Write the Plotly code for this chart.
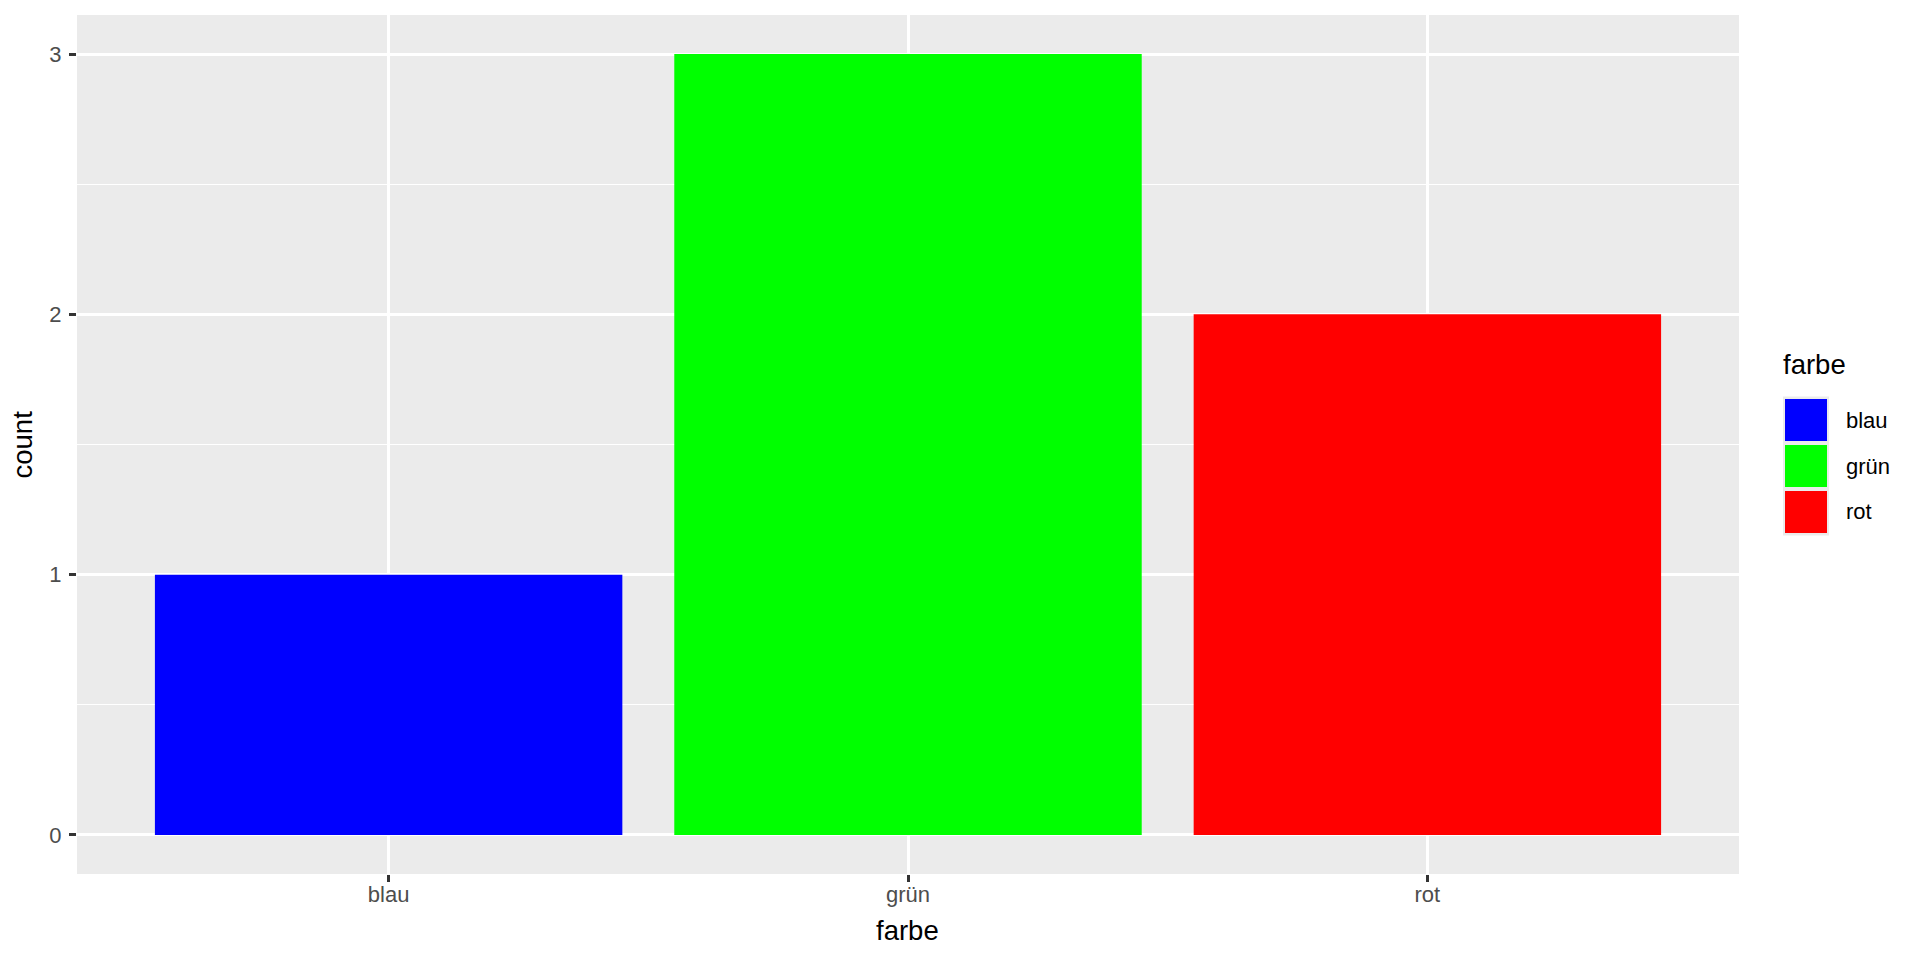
import plotly.graph_objects as go

# data
farbe = ["blau", "grün", "rot"]
count = [1, 3, 2]
farben = ["#0000FF", "#00FF00", "#FF0000"]
y_ticks = [0, 1, 2, 3]

# the page body has an 8px margin, so the figure is a bit smaller and shifted
OFF = 8
W, H = 1920 - 2 * OFF, 960 - 2 * OFF
L, T = 77 - OFF, 15 - OFF
R = W - (1739 - OFF)
B = H - (874 - OFF)
PW = W - L - R
PH = H - T - B


def px_x(x):
    return (x - OFF - L) / PW


def px_y(y):
    return (H - B - (y - OFF)) / PH


FONT = "Liberation Sans, Arial, sans-serif"

fig = go.Figure()
fig.add_trace(
    go.Bar(
        x=farbe,
        y=count,
        width=0.9,
        marker=dict(color=farben, line=dict(width=0)),
        showlegend=False,
        hoverinfo="x+y",
    )
)

fig.update_layout(
    width=W,
    height=H,
    margin=dict(l=L, r=R, t=T, b=B, autoexpand=False),
    paper_bgcolor="white",
    plot_bgcolor="#EBEBEB",
    font=dict(family=FONT, size=22, color="#4D4D4D"),
    showlegend=False,
)

fig.update_xaxes(
    type="category",
    range=[-0.6, len(farbe) - 0.4],
    showgrid=True,
    gridcolor="white",
    gridwidth=2.5,
    ticks="outside",
    ticklen=7,
    tickwidth=2.5,
    tickcolor="#333333",
    tickfont=dict(size=22, color="#4D4D4D"),
    ticklabelstandoff=-6,
    zeroline=False,
    showline=False,
)

fig.update_yaxes(
    range=[-0.15, 3.15],
    tickvals=y_ticks,
    showgrid=True,
    gridcolor="white",
    gridwidth=2.5,
    minor=dict(dtick=0.5, tick0=0.5, showgrid=True, gridcolor="white", gridwidth=1.3, ticks=""),
    ticks="outside",
    ticklen=7,
    tickwidth=2.5,
    tickcolor="#333333",
    tickfont=dict(size=22, color="#4D4D4D"),
    ticklabelstandoff=3,
    zeroline=False,
    showline=False,
)

annotations = [
    dict(text="count", x=px_x(22), y=px_y(444.5), xref="paper", yref="paper",
         textangle=-90, showarrow=False, xanchor="center", yanchor="middle",
         font=dict(size=27.5, color="black", family=FONT)),
    dict(text="farbe", x=px_x(907.5), y=px_y(930), xref="paper", yref="paper",
         showarrow=False, xanchor="center", yanchor="middle",
         font=dict(size=27.5, color="black", family=FONT)),
    dict(text="farbe", x=px_x(1781), y=px_y(364), xref="paper", yref="paper",
         showarrow=False, xanchor="left", yanchor="middle",
         font=dict(size=27.5, color="black", family=FONT)),
]

# legend keys drawn by hand (ggplot-style large keys)
shapes = [
    dict(type="rect", xref="paper", yref="paper",
         x0=px_x(1783), x1=px_x(1829), y0=px_y(396.5), y1=px_y(535.5),
         fillcolor="#EBEBEB", line=dict(width=0), layer="above"),
]
for i, (name, col) in enumerate(zip(farbe, farben)):
    top = 399 + i * 46
    shapes.append(dict(type="rect", xref="paper", yref="paper",
                       x0=px_x(1785), x1=px_x(1827), y0=px_y(top), y1=px_y(top + 42),
                       fillcolor=col, line=dict(width=0), layer="above"))
    annotations.append(dict(text=name, x=px_x(1844), y=px_y(top + 21), xref="paper", yref="paper",
                            showarrow=False, xanchor="left", yanchor="middle",
                            font=dict(size=22, color="black", family=FONT)))

fig.update_layout(annotations=annotations, shapes=shapes)

fig.write_html("out.html")
